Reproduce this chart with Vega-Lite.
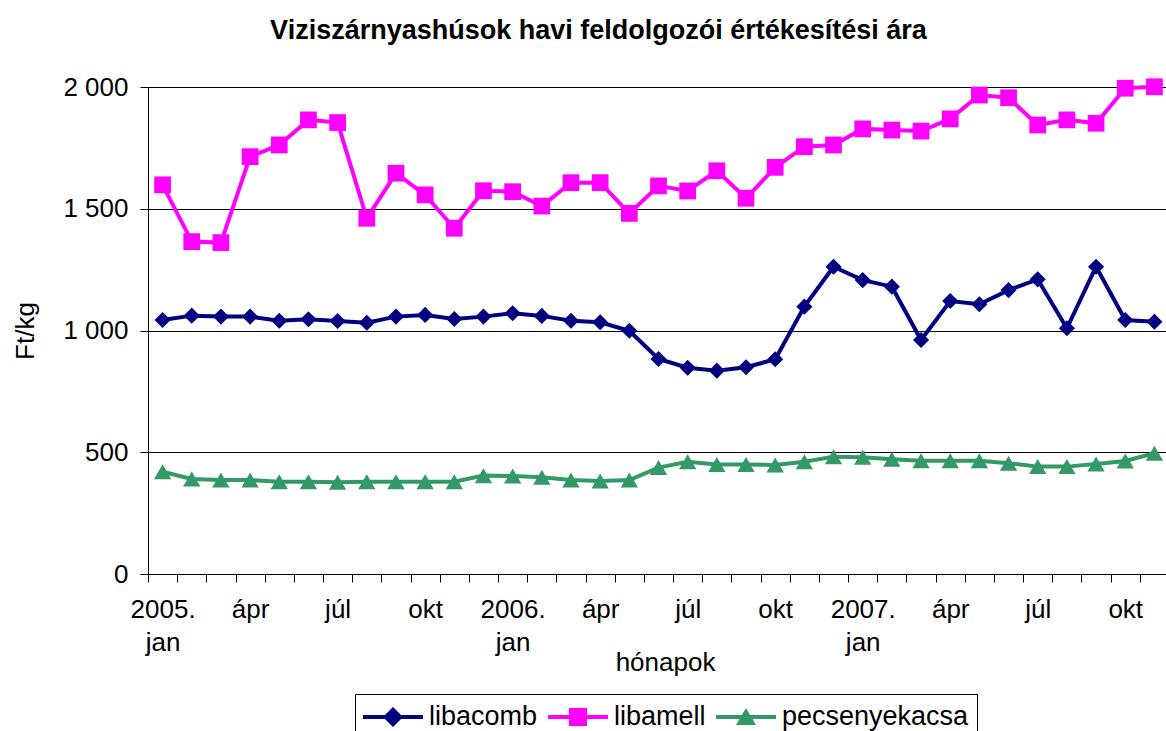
{
  "$schema": "https://vega.github.io/schema/vega-lite/v6.json",
  "width": 1021,
  "height": 487,
  "autosize": {"type": "none"},
  "padding": {"left": 148, "top": 87, "right": 0, "bottom": 157},
  "background": "white",
  "title": {
    "text": "Viziszárnyashúsok havi feldolgozói értékesítési ára",
    "font": "Liberation Sans",
    "fontSize": 27,
    "fontWeight": "bold",
    "color": "black",
    "anchor": "middle",
    "dx": -60,
    "baseline": "alphabetic",
    "offset": 8
  },
  "config": {
    "view": {"stroke": null},
    "font": "Liberation Sans",
    "axis": {
      "labelFont": "Liberation Sans",
      "titleFont": "Liberation Sans",
      "labelColor": "black",
      "titleColor": "black",
      "domainColor": "black",
      "tickColor": "black",
      "labelFontSize": 26,
      "titleFontSize": 26,
      "titleFontWeight": "normal",
      "tickSize": 8,
      "domainWidth": 1,
      "tickWidth": 1
    }
  },
  "data": {
    "values": [
      {"h":"2005-01","t":"libacomb","v":1043},{"h":"2005-02","t":"libacomb","v":1061},{"h":"2005-03","t":"libacomb","v":1057},{"h":"2005-04","t":"libacomb","v":1057},{"h":"2005-05","t":"libacomb","v":1040},{"h":"2005-06","t":"libacomb","v":1046},{"h":"2005-07","t":"libacomb","v":1039},{"h":"2005-08","t":"libacomb","v":1032},{"h":"2005-09","t":"libacomb","v":1057},{"h":"2005-10","t":"libacomb","v":1064},{"h":"2005-11","t":"libacomb","v":1047},{"h":"2005-12","t":"libacomb","v":1057},
      {"h":"2006-01","t":"libacomb","v":1071},{"h":"2006-02","t":"libacomb","v":1060},{"h":"2006-03","t":"libacomb","v":1040},{"h":"2006-04","t":"libacomb","v":1034},{"h":"2006-05","t":"libacomb","v":999},{"h":"2006-06","t":"libacomb","v":883},{"h":"2006-07","t":"libacomb","v":847},{"h":"2006-08","t":"libacomb","v":835},{"h":"2006-09","t":"libacomb","v":849},{"h":"2006-10","t":"libacomb","v":882},{"h":"2006-11","t":"libacomb","v":1098},{"h":"2006-12","t":"libacomb","v":1262},
      {"h":"2007-01","t":"libacomb","v":1207},{"h":"2007-02","t":"libacomb","v":1180},{"h":"2007-03","t":"libacomb","v":961},{"h":"2007-04","t":"libacomb","v":1121},{"h":"2007-05","t":"libacomb","v":1108},{"h":"2007-06","t":"libacomb","v":1166},{"h":"2007-07","t":"libacomb","v":1210},{"h":"2007-08","t":"libacomb","v":1009},{"h":"2007-09","t":"libacomb","v":1262},{"h":"2007-10","t":"libacomb","v":1043},{"h":"2007-11","t":"libacomb","v":1036},
      {"h":"2005-01","t":"libamell","v":1598},{"h":"2005-02","t":"libamell","v":1365},{"h":"2005-03","t":"libamell","v":1361},{"h":"2005-04","t":"libamell","v":1714},{"h":"2005-05","t":"libamell","v":1762},{"h":"2005-06","t":"libamell","v":1865},{"h":"2005-07","t":"libamell","v":1854},{"h":"2005-08","t":"libamell","v":1461},{"h":"2005-09","t":"libamell","v":1646},{"h":"2005-10","t":"libamell","v":1557},{"h":"2005-11","t":"libamell","v":1420},{"h":"2005-12","t":"libamell","v":1574},
      {"h":"2006-01","t":"libamell","v":1570},{"h":"2006-02","t":"libamell","v":1511},{"h":"2006-03","t":"libamell","v":1607},{"h":"2006-04","t":"libamell","v":1607},{"h":"2006-05","t":"libamell","v":1481},{"h":"2006-06","t":"libamell","v":1594},{"h":"2006-07","t":"libamell","v":1573},{"h":"2006-08","t":"libamell","v":1656},{"h":"2006-09","t":"libamell","v":1543},{"h":"2006-10","t":"libamell","v":1670},{"h":"2006-11","t":"libamell","v":1755},{"h":"2006-12","t":"libamell","v":1762},
      {"h":"2007-01","t":"libamell","v":1828},{"h":"2007-02","t":"libamell","v":1823},{"h":"2007-03","t":"libamell","v":1819},{"h":"2007-04","t":"libamell","v":1869},{"h":"2007-05","t":"libamell","v":1967},{"h":"2007-06","t":"libamell","v":1956},{"h":"2007-07","t":"libamell","v":1844},{"h":"2007-08","t":"libamell","v":1865},{"h":"2007-09","t":"libamell","v":1851},{"h":"2007-10","t":"libamell","v":1995},{"h":"2007-11","t":"libamell","v":2001},
      {"h":"2005-01","t":"pecsenyekacsa","v":420},{"h":"2005-02","t":"pecsenyekacsa","v":390},{"h":"2005-03","t":"pecsenyekacsa","v":386},{"h":"2005-04","t":"pecsenyekacsa","v":386},{"h":"2005-05","t":"pecsenyekacsa","v":379},{"h":"2005-06","t":"pecsenyekacsa","v":379},{"h":"2005-07","t":"pecsenyekacsa","v":377},{"h":"2005-08","t":"pecsenyekacsa","v":379},{"h":"2005-09","t":"pecsenyekacsa","v":379},{"h":"2005-10","t":"pecsenyekacsa","v":379},{"h":"2005-11","t":"pecsenyekacsa","v":379},{"h":"2005-12","t":"pecsenyekacsa","v":404},
      {"h":"2006-01","t":"pecsenyekacsa","v":402},{"h":"2006-02","t":"pecsenyekacsa","v":397},{"h":"2006-03","t":"pecsenyekacsa","v":386},{"h":"2006-04","t":"pecsenyekacsa","v":382},{"h":"2006-05","t":"pecsenyekacsa","v":386},{"h":"2006-06","t":"pecsenyekacsa","v":437},{"h":"2006-07","t":"pecsenyekacsa","v":461},{"h":"2006-08","t":"pecsenyekacsa","v":450},{"h":"2006-09","t":"pecsenyekacsa","v":450},{"h":"2006-10","t":"pecsenyekacsa","v":448},{"h":"2006-11","t":"pecsenyekacsa","v":461},{"h":"2006-12","t":"pecsenyekacsa","v":482},
      {"h":"2007-01","t":"pecsenyekacsa","v":479},{"h":"2007-02","t":"pecsenyekacsa","v":471},{"h":"2007-03","t":"pecsenyekacsa","v":465},{"h":"2007-04","t":"pecsenyekacsa","v":465},{"h":"2007-05","t":"pecsenyekacsa","v":465},{"h":"2007-06","t":"pecsenyekacsa","v":455},{"h":"2007-07","t":"pecsenyekacsa","v":441},{"h":"2007-08","t":"pecsenyekacsa","v":441},{"h":"2007-09","t":"pecsenyekacsa","v":452},{"h":"2007-10","t":"pecsenyekacsa","v":464},{"h":"2007-11","t":"pecsenyekacsa","v":496}
    ]
  },
  "encoding": {
    "x": {
      "field": "h",
      "type": "ordinal",
      "scale": {"type": "band", "paddingInner": 0, "paddingOuter": 0},
      "axis": {
        "title": "hónapok",
        "tickBand": "extent",
        "labelAngle": 0,
        "labelBaseline": "top",
        "labelPadding": 14,
        "labelLineHeight": 33,
        "labelOverlap": false,
        "labelFlush": false,
        "labelExpr": "substring(datum.value,5,7)=='01' ? [substring(datum.value,0,4)+'.', 'jan'] : substring(datum.value,5,7)=='04' ? 'ápr' : substring(datum.value,5,7)=='07' ? 'júl' : substring(datum.value,5,7)=='10' ? 'okt' : ''",
        "titleX": 517,
        "titleY": 96,
        "titleAlign": "center",
        "titleBaseline": "alphabetic"
      }
    },
    "y": {
      "field": "v",
      "type": "quantitative",
      "scale": {"domain": [0, 2000], "nice": false},
      "axis": {
        "title": "Ft/kg",
        "values": [0, 500, 1000, 1500, 2000],
        "labelExpr": "replace(format(datum.value, ',d'), ',', ' ')",
        "labelPadding": 12,
        "grid": true,
        "gridColor": "black",
        "gridWidth": 1,
        "titlePadding": 24
      }
    },
    "color": {
      "field": "t",
      "type": "nominal",
      "scale": {"domain": ["libacomb", "libamell", "pecsenyekacsa"], "range": ["#000080", "#FF00FF", "#339966"]}
    }
  },
  "layer": [
    {
      "mark": {"type": "line", "strokeWidth": 4},
      "encoding": {"color": {"field": "t", "type": "nominal", "legend": null}}
    },
    {
      "mark": {"type": "point", "filled": true, "opacity": 1},
      "encoding": {
        "color": {"field": "t", "type": "nominal", "legend": null},
        "shape": {"field": "t", "type": "nominal", "legend": null, "scale": {"domain": ["libacomb", "libamell", "pecsenyekacsa"], "range": ["diamond", "square", "triangle-up"]}},
        "size": {"field": "t", "type": "nominal", "legend": null, "scale": {"domain": ["libacomb", "libamell", "pecsenyekacsa"], "range": [260, 300, 380]}}
      }
    },
    {
      "mark": {"type": "point", "filled": true, "opacity": 0},
      "encoding": {
        "color": {"field": "t", "type": "nominal", "legend": {
          "orient": "none",
          "legendX": 207,
          "legendY": 607,
          "direction": "horizontal",
          "columns": 3,
          "title": null,
          "symbolSize": 900,
          "symbolStrokeWidth": 0,
          "symbolOpacity": 1,
          "labelFont": "Liberation Sans",
          "labelFontSize": 27,
          "labelColor": "black",
          "labelLimit": 400,
          "labelOffset": 36,
          "columnPadding": 10,
          "padding": 8,
          "strokeColor": "black",
          "fillColor": "white",
          "encode": {"symbols": {"update": {"opacity": {"value": 1}, "fillOpacity": {"value": 1}}}}
        }},
        "shape": {"field": "t", "type": "nominal", "scale": {"domain": ["libacomb", "libamell", "pecsenyekacsa"], "range": [
          "M-1,-0.13H3V0.13H-1Z M1,-0.67L1.67,0L1,0.67L0.33,0Z",
          "M-1,-0.13H3V0.13H-1Z M0.4,-0.6H1.6V0.6H0.4Z",
          "M-1,-0.13H3V0.13H-1Z M1,-0.6L1.67,0.53L0.33,0.53Z"
        ]}}
      }
    }
  ],
  "resolve": {"scale": {"shape": "independent", "size": "independent"}, "legend": {"color": "independent", "shape": "independent"}}
}
